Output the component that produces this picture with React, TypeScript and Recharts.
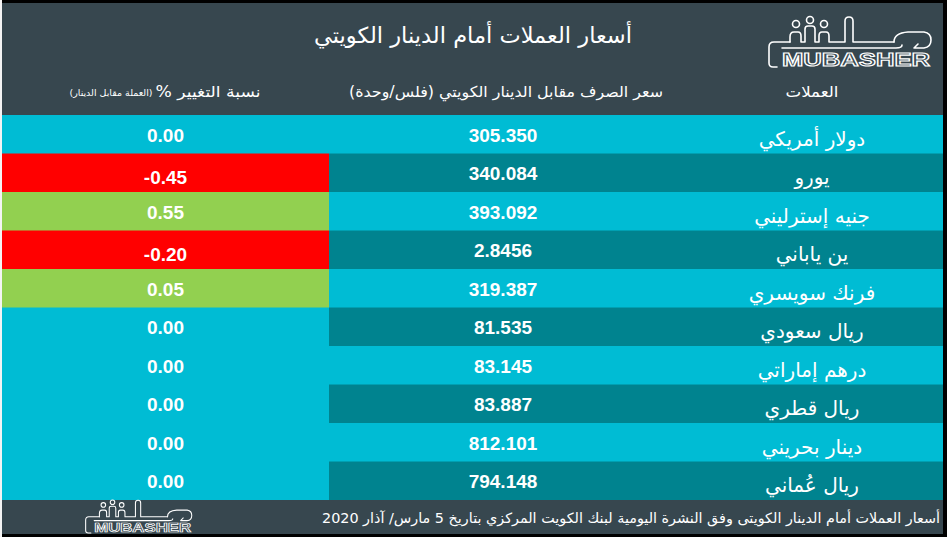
import React from 'react';
import { BarChart, Bar, XAxis, YAxis } from 'recharts';

// ---------- data ----------
const currencies = [
  'دولار أمريكي',
  'يورو',
  'جنيه إسترليني',
  'ين ياباني',
  'فرنك سويسري',
  'ريال سعودي',
  'درهم إماراتي',
  'ريال قطري',
  'دينار بحريني',
  'ريال عُماني',
];
const rates = [305.35, 340.084, 393.092, 2.8456, 319.387, 81.535, 83.145, 83.887, 812.101, 794.148];
const changes = [0.0, -0.45, 0.55, -0.2, 0.05, 0.0, 0.0, 0.0, 0.0, 0.0];

const titleText = 'أسعار العملات أمام الدينار الكويتي';
const headerCurrency = 'العملات';
const headerRate = 'سعر الصرف مقابل الدينار الكويتي (فلس/وحدة)';
const headerChange = 'نسبة التغيير %';
const headerChangeNote = '(العملة مقابل الدينار)';
const footerText = 'أسعار  العملات أمام الدينار الكويتى وفق النشرة اليومية لبنك الكويت المركزي بتاريخ 5 مارس/ آذار 2020';

// ---------- layout / style ----------
const W = 947;
const H = 537;
const TABLE_LEFT = 2;
const TABLE_TOP = 115;
const TABLE_W = 941;
const TABLE_H = 385;
const COL_W = [327, 352, 262];

const DARK = '#37474F';
const CYAN = '#00BCD4';
const TEAL = '#00838F';
const RED = '#FF0000';
const GREEN = '#92D050';

const AR_FONT = '"DejaVu Sans", "Noto Sans", sans-serif';
const NUM_FONT = '"Liberation Sans", Arial, sans-serif';

const tableData = currencies.map((name, i) => ({
  name,
  rate: rates[i],
  change: changes[i],
  idx: i,
}));

const fmtRate = (v: number) => (v < 10 ? v.toFixed(4) : v.toFixed(3));
const fmtChange = (v: number) => (Math.abs(v) < 1e-9 ? '0.00' : v.toFixed(2));
const changeColor = (v: number) => (v > 0 ? GREEN : v < 0 ? RED : CYAN);
const rowColor = (i: number) => (i % 2 === 0 ? CYAN : TEAL);

const ChangeCell = (p: any) => {
  const { x, y, width, height, payload } = p;
  const neg = payload.change < 0;
  return (
    <g>
      <rect x={x} y={y} width={width + 0.5} height={height + 0.5} fill={changeColor(payload.change)} />
      <text
        x={x + width / 2}
        y={y + height / 2 + (neg ? 11 : 7)}
        textAnchor="middle"
        fill="#ffffff"
        fontFamily={NUM_FONT}
        fontWeight="bold"
        fontSize={19}
      >
        {fmtChange(payload.change)}
      </text>
    </g>
  );
};

const RateCell = (p: any) => {
  const { x, y, width, height, payload } = p;
  return (
    <g>
      <rect x={x} y={y} width={width + 0.5} height={height + 0.5} fill={rowColor(payload.idx)} />
      <text
        x={x + width / 2 - 2}
        y={y + height / 2 + 7}
        textAnchor="middle"
        fill="#ffffff"
        fontFamily={NUM_FONT}
        fontWeight="bold"
        fontSize={19}
      >
        {fmtRate(payload.rate)}
      </text>
    </g>
  );
};

const NameCell = (p: any) => {
  const { x, y, width, height, payload } = p;
  return (
    <g>
      <rect x={x} y={y} width={width} height={height + 0.5} fill={rowColor(payload.idx)} />
      <text
        x={x + width / 2}
        y={y + height / 2 + 11}
        textAnchor="middle"
        direction="rtl"
        fill="#ffffff"
        fontFamily={AR_FONT}
        fontSize={20}
      >
        {payload.name}
      </text>
    </g>
  );
};

const Logo = ({ x, y, s }: { x: number; y: number; s: number }) => (
  <g transform={`translate(${x},${y}) scale(${s})`}>
    <g fill="none" stroke="#ffffff" strokeWidth={1.6} strokeLinecap="round" strokeLinejoin="round">
      <path d="M9 52 L5 52 Q1 52 1 48 L1 32 Q1 27 6 27 L22 27" />
      <circle cx={28} cy={9} r={3.5} />
      <circle cx={42} cy={5} r={3.5} />
      <circle cx={56} cy={9} r={3.5} />
      <path d="M22 27 L22 22 Q22 17 26 17 L30 17 Q33 17 33 21 L33 27 L37 27 L37 14 Q37 11 40 11 L44 11 Q47 11 47 14 L47 27 L51 27 L51 21 Q51 17 54 17 L58 17 Q61 17 61 21 L61 27 L77 27 L77 6 Q77 2 81 2 Q85 2 85 6 L85 27 L126 27" />
      <path d="M126 27 Q126 18 140 17 L156 17 Q163 18 163 25 Q163 32 156 33 L146 33 L150 29" />
      <path d="M14 33 L128 33 Q134 33 134 30" />
    </g>
    <text
      x={88}
      y={51}
      textAnchor="middle"
      fontFamily={NUM_FONT}
      fontWeight="bold"
      fontSize={19}
      textLength={148}
      lengthAdjust="spacingAndGlyphs"
      fill={DARK}
      stroke="#ffffff"
      strokeWidth={1.1}
    >
      MUBASHER
    </text>
  </g>
);

export default function App() {
  return (
    <div
      style={{
        position: 'absolute',
        left: 0,
        top: 0,
        width: W,
        height: H,
        background: '#f4f4f4',
        overflow: 'hidden',
      }}
    >
      <div style={{ position: 'absolute', left: 2, top: 0, width: W - 2, height: H, background: '#000' }} />
      <div style={{ position: 'absolute', left: 2, top: 3, width: 941, height: 531, background: DARK }} />
      <div style={{ position: 'absolute', left: TABLE_LEFT, top: TABLE_TOP }}>
        <BarChart
          width={TABLE_W}
          height={TABLE_H}
          data={tableData}
          layout="vertical"
          margin={{ top: 0, right: 0, bottom: 0, left: 0 }}
          barCategoryGap={0}
          barGap={0}
        >
          <XAxis type="number" domain={[0, TABLE_W]} hide />
          <YAxis type="category" dataKey="name" hide />
          <Bar dataKey={() => COL_W[0]} stackId="t" shape={ChangeCell} isAnimationActive={false} />
          <Bar dataKey={() => COL_W[1]} stackId="t" shape={RateCell} isAnimationActive={false} />
          <Bar dataKey={() => COL_W[2]} stackId="t" shape={NameCell} isAnimationActive={false} />
        </BarChart>
      </div>
      <svg width={W} height={H} style={{ position: 'absolute', left: 0, top: 0 }}>
        <text
          x={473}
          y={43}
          textAnchor="middle"
          direction="rtl"
          fill="#ffffff"
          fontFamily={AR_FONT}
          fontSize={22}
          textLength={318}
          lengthAdjust="spacingAndGlyphs"
        >
          {titleText}
        </text>
        <text x={812} y={97} textAnchor="middle" direction="rtl" fill="#ffffff" fontFamily={AR_FONT} fontSize={15} textLength={53} lengthAdjust="spacingAndGlyphs">
          {headerCurrency}
        </text>
        <text x={506} y={97} textAnchor="middle" direction="rtl" fill="#ffffff" fontFamily={AR_FONT} fontSize={15} textLength={314} lengthAdjust="spacingAndGlyphs">
          {headerRate}
        </text>
        <text x={208} y={97} textAnchor="middle" direction="rtl" fill="#ffffff" fontFamily={AR_FONT} fontSize={15} textLength={105} lengthAdjust="spacingAndGlyphs">
          {headerChange}
        </text>
        <text x={111} y={96} textAnchor="middle" direction="rtl" fill="#ffffff" fontFamily={AR_FONT} fontSize={9} textLength={83} lengthAdjust="spacingAndGlyphs">
          {headerChangeNote}
        </text>
        <text x={631} y={523} textAnchor="middle" direction="rtl" fill="#ffffff" fontFamily={AR_FONT} fontSize={14} textLength={618} lengthAdjust="spacingAndGlyphs">
          {footerText}
        </text>
        <Logo x={768} y={15} s={1} />
        <Logo x={85} y={499} s={0.655} />
      </svg>
    </div>
  );
}
